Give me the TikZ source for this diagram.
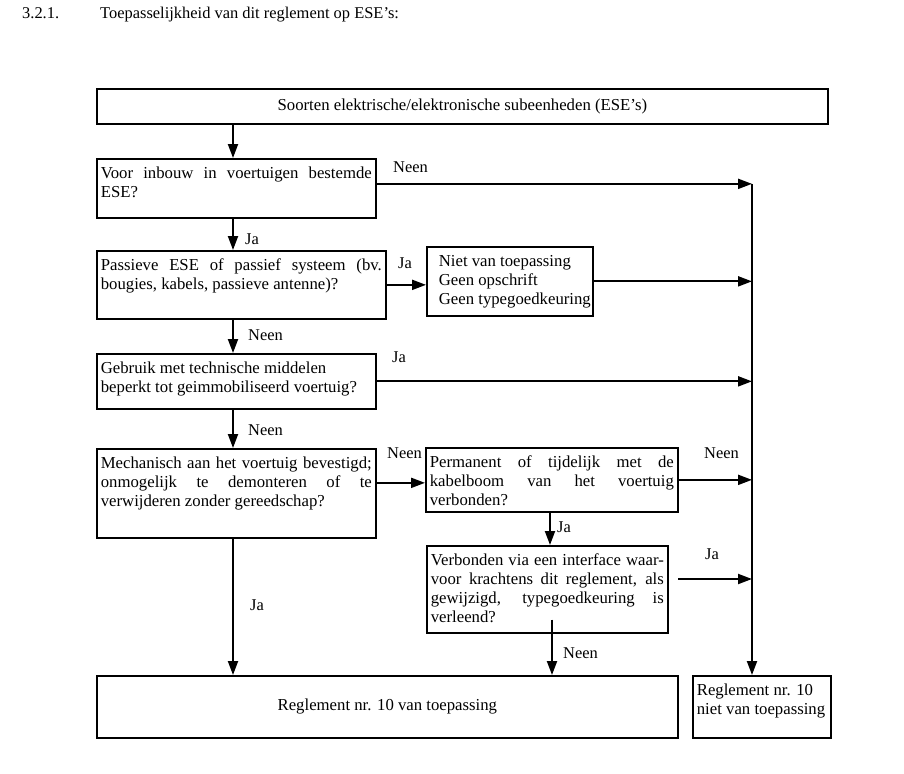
\documentclass[tikz,border=0pt]{standalone}
\usepackage{fontspec}
\setmainfont{Liberation Serif}
\usetikzlibrary{arrows.meta}
\newcommand{\jl}[1]{\makebox[\linewidth][s]{#1}\par}
\newcommand{\fs}{\rule{0pt}{16bp}}
\tikzset{
  box/.style={draw, line width=1.7bp, inner xsep=4bp, inner ysep=4bp, anchor=north west,
    font=\fontsize{16.8}{19}\selectfont},
  plainbox/.style={draw, line width=1.7bp, inner sep=0pt, anchor=north west,
    font=\fontsize{16.8}{19}\selectfont},
  lbl/.style={anchor=base west, inner sep=0pt, font=\fontsize{16.5}{19}\selectfont},
  arr/.style={line width=2bp, -{Triangle[length=14bp,width=10bp]}}
}
\begin{document}
\begin{tikzpicture}[x=1bp,y=1bp]
\useasboundingbox (0,0) rectangle (904,-774);

% title
\node[lbl] (tnum) at (22,-19) {3.2.1.};
\node[lbl] (ttxt) at (100,-19) {Toepasselijkheid van dit reglement op ESE's:};

% boxes
\node[plainbox, minimum width=731bp, minimum height=35bp] (top) at (96,-88)
  {Soorten elektrische/elektronische subeenheden (ESE's)};

\node[box] (b1) at (96,-158) {\parbox[c][51bp][t]{271bp}{%
  \jl{\fs Voor inbouw in voertuigen bestemde}ESE?}};

\node[box] (b2) at (96,-250) {\parbox[c][60bp][t]{281bp}{%
  \jl{\fs Passieve ESE of passief systeem (bv.}bougies, kabels, passieve antenne)?}};

\node[box] (b3) at (426,-246) {\parbox[c][61bp][t]{158bp}{\hyphenpenalty=10000
  \hspace*{8bp}\mbox{\fs Niet van toepassing}\\
  \hspace*{8bp}\mbox{Geen opschrift}\\
  \hspace*{8bp}\mbox{Geen typegoedkeuring}}};

\node[box] (b4) at (96,-353) {\parbox[c][47bp][t]{271bp}{%
  \fs Gebruik met technische middelen\\ beperkt tot geimmobiliseerd voertuig?}};

\node[box] (b5) at (96,-448) {\parbox[c][81bp][t]{271bp}{%
  \jl{\fs Mechanisch aan het voertuig bevestigd;}\jl{onmogelijk te demonteren of te}verwijderen zonder gereedschap?}};

\node[box] (b6) at (425,-447) {\parbox[c][56bp][t]{244bp}{%
  \jl{\fs Permanent of tijdelijk met de}\jl{kabelboom van het voertuig}verbonden?}};

\node[box] (b7) at (426,-545) {\parbox[c][79bp][t]{233bp}{%
  \jl{\fs Verbonden via een interface waar-}\jl{voor krachtens dit reglement, als}\jl{gewijzigd, typegoedkeuring is}verleend?}};

\node[plainbox, minimum width=581bp, minimum height=62bp] (bl) at (96,-675)
  {Reglement nr. 10 van toepassing};

\node[box] (rb) at (692,-675) {\parbox[c][54bp][t]{130bp}{%
  \fs Reglement nr. 10\\ niet van toepassing}};

% helper x positions
\coordinate (cx) at (233,0);
\coordinate (vx) at (752,0);
\coordinate (jx) at (550,0);
\coordinate (nx) at (552,0);
\coordinate (j7) at (678,-579);

% connectors
\draw[arr] (top.south -| cx) -- (b1.north -| cx);
\draw[arr] ([yshift=4.5bp]b1.east) coordinate (n1s) -- (n1s -| vx) coordinate (vtop);
\draw[arr] (vtop) -- (vx |- rb.north);
\draw[arr] (b1.south -| cx) -- (b2.north -| cx);
\draw[arr] (b2.east) -- (b2.east -| b3.west);
\draw[arr] (b3.east) -- (b3.east -| vx);
\draw[arr] (b2.south -| cx) -- (b4.north -| cx);
\draw[arr] (b4.east) -- (b4.east -| vx);
\draw[arr] (b4.south -| cx) -- (b5.north -| cx);
\draw[arr] ([yshift=10.5bp]b5.east) coordinate (n5) -- (n5 -| b6.west);
\draw[arr] (b6.east) -- (b6.east -| vx);
\draw[arr] (b6.south -| jx) -- (b7.north -| jx);
\draw[arr] (j7) -- (j7 -| vx);
\draw[arr] ([yshift=14bp]b7.south -| nx) -- (bl.north -| nx);
\draw[arr] (b5.south -| cx) -- (bl.north -| cx);

% labels
\node[lbl] (l1) at (393,-172) {Neen};
\node[lbl] (l2) at (245,-244) {Ja};
\node[lbl] (l3) at (398,-268) {Ja};
\node[lbl] (l4) at (248,-340) {Neen};
\node[lbl] (l5) at (392,-362) {Ja};
\node[lbl] (l6) at (248,-435) {Neen};
\node[lbl] (l7) at (387,-458) {Neen};
\node[lbl] (l8) at (704,-458) {Neen};
\node[lbl] (l9) at (557,-532) {Ja};
\node[lbl] (l10) at (705,-559) {Ja};
\node[lbl] (l11) at (563,-658) {Neen};
\node[lbl] (l12) at (250,-610) {Ja};
\end{tikzpicture}
\end{document}
